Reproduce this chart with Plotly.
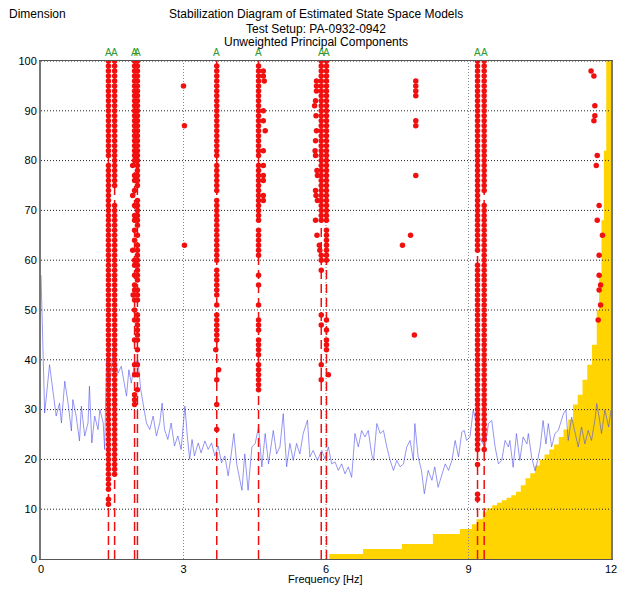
import plotly.graph_objects as go

# ---------------- data ----------------
X_TICKS = [0, 3, 6, 9, 12]
Y_TICKS = [0, 10, 20, 30, 40, 50, 60, 70, 80, 90, 100]

# yellow staircase (frequency where the step starts, height of the step)
YEL_F = [6.07, 6.78, 7.60, 8.25, 8.82, 9.07, 9.17, 9.30, 9.38, 9.50, 9.60, 9.70, 9.80, 9.90,
         10.0, 10.1, 10.2, 10.3, 10.4, 10.5, 10.6, 10.7, 10.8, 10.9, 11.0, 11.1, 11.2, 11.3,
         11.4, 11.5, 11.6, 11.7, 11.75, 11.8, 11.85, 11.9, 12.0]
YEL_H = [1, 2, 3, 5, 6, 7, 8, 9.5, 10.2, 10.8, 11.3, 11.8, 12.3, 12.8,
         13.5, 14.8, 16.2, 17.2, 18.8, 20.0, 21.0, 22.0, 23.0, 24.5, 26, 28, 31, 33,
         36, 39, 43, 50, 57, 68, 82, 100, 100]

# blue indicator line
BLUE_F = [0.0, 0.03, 0.077, 0.18, 0.25, 0.32, 0.39, 0.43, 0.5, 0.57, 0.64, 0.67, 0.74, 0.81, 0.85,
          0.92, 0.99, 1.02, 1.07, 1.13, 1.2, 1.24, 1.31, 1.34, 1.38, 1.45, 1.52, 1.56, 1.62, 1.69,
          1.75, 1.8, 1.85, 1.9, 1.97, 2.04, 2.1, 2.17, 2.22, 2.29, 2.36, 2.43, 2.5, 2.55, 2.6,
          2.67, 2.74, 2.81, 2.88, 2.95, 3.03, 3.08, 3.13, 3.18, 3.23, 3.31, 3.37, 3.45, 3.52, 3.59,
          3.66, 3.73, 3.8, 3.87, 3.94, 4.0, 4.06, 4.12, 4.23, 4.29, 4.36, 4.44, 4.51, 4.58, 4.65,
          4.72, 4.79, 4.89, 4.96, 5.03, 5.1, 5.17, 5.24, 5.31, 5.38, 5.45, 5.52, 5.61, 5.66, 5.73,
          5.82, 5.91, 5.98, 6.05, 6.12, 6.19, 6.26, 6.33, 6.4, 6.47, 6.54, 6.61, 6.68, 6.75, 6.82,
          6.89, 6.96, 7.0, 7.07, 7.14, 7.21, 7.28, 7.35, 7.42, 7.49, 7.56, 7.63, 7.7, 7.77, 7.84,
          7.87, 7.94, 8.01, 8.07, 8.15, 8.23, 8.29, 8.36, 8.44, 8.51, 8.58, 8.65, 8.72, 8.79, 8.86,
          8.91, 8.96, 9.03, 9.1, 9.17, 9.25, 9.35, 9.42, 9.49, 9.56, 9.63, 9.7, 9.77, 9.84, 9.87,
          9.94, 10.01, 10.08, 10.15, 10.23, 10.26, 10.33, 10.4, 10.44, 10.51, 10.57, 10.63, 10.68,
          10.75, 10.82, 10.89, 10.94, 11.0, 11.05, 11.1, 11.17, 11.24, 11.31, 11.38, 11.45, 11.52,
          11.59, 11.66, 11.7, 11.75, 11.8, 11.87, 11.95, 12.0]
BLUE_V = [57, 45, 29.3, 39, 34, 28.7, 31.3, 27.3, 35.7, 31.3, 25.7, 32, 28.7, 23.7, 30.7,
          24.7, 27.3, 34.7, 23.3, 28.7, 26, 30, 27.3, 22, 40, 35.3, 42, 40, 37.3, 38.7,
          35.3, 32.7, 38, 35.3, 39.3, 40, 34, 30, 27.3, 26, 28.7, 24.7, 27.3, 31.3, 26,
          24, 27.3, 22.7, 24.7, 22, 30.7, 24.7, 20, 24, 20.7, 23.3, 21.3, 23.7, 22, 23.3,
          20.7, 22.7, 19.3, 20.7, 16.7, 20.7, 25.2, 19.1, 13.8, 21.1, 13.8, 22.5, 23.2, 26.5, 18.5,
          25.2, 19.1, 25.8, 21.1, 22.5, 29.2, 18.5, 23.2, 19.8, 23.2, 21.1, 25.2, 27.9, 20.5, 21.8,
          19.8, 21.8, 20.1, 22.5, 19.1, 19.5, 17.8, 19.1, 17.1, 18.5, 16.4, 25.2, 22.5, 25.8, 24.5,
          25.8, 21.1, 19.8, 27.2, 25.2, 25.8, 22.5, 19.8, 17.8, 19.8, 18.5, 19.1, 22.5, 23.8, 19.8,
          27.2, 20.5, 17.8, 13.1, 17.8, 15.8, 18.5, 14.4, 17.1, 19.1, 17.8, 19.8, 23.8, 20.5, 25.5,
          25.8, 23.8, 24.5, 29.9, 27.2, 24, 22.5, 27.2, 27.8, 22.5, 19.1, 19.8, 23.8, 22.5, 23.8,
          18.4, 25.2, 19.8, 24.5, 23.1, 25.2, 20.4, 17.7, 19.1, 22.5, 27.8, 23.1, 27.2,
          22.5, 25.2, 25.8, 27.2, 29.2, 29.9, 23.8, 28.5, 25.2, 22.5, 26.5, 23.1, 25.8,
          23.8, 27.8, 31.2, 28.5, 25.2, 29.9, 26.5, 29.9]

# stable-mode columns (frequency [Hz]) with their dimension spans and single dots
COL_FREQS = [1.42, 1.55, 1.97, 2.03, 3.70, 4.58, 5.90, 6.01, 9.19, 9.33]
COL_SPANS = [
    [(14, 79), (81, 100)],
    [(17, 71), (75, 100)],
    [(80, 100)],
    [(75, 100), (67, 72), (59, 63), (56, 58), (52, 54), (44, 49)],
    [(81, 99), (74, 79), (60, 72), (53, 57), (44, 49)],
    [(81, 99), (68, 79), (61, 66), (46, 48), (41, 44), (34, 39)],
    [(68, 100)],
    [(68, 100), (60, 66), (42, 44)],
    [(62, 100), (22, 59)],
    [(74, 100), (24, 71)],
]
COL_SINGLES = [
    [11, 12],
    [],
    [77, 76, 74, 71, 69, 68, 66, 64, 60, 59, 57, 55, 54, 52, 50, 48, 44, 39, 37, 33, 32, 31],
    [65, 42, 39, 37, 34],
    [58, 51, 36, 31, 26],
    [57, 55, 51],
    [61, 60, 58, 49, 47, 39, 36],
    [48, 46],
    [19, 13, 12],
    [22],
]

# dots slightly off their column
OFF_F = [1.93, 1.93, 1.93, 1.94, 3.68, 3.74,
         4.68, 4.68, 4.70, 4.68, 4.68, 4.72, 4.68, 4.68, 4.68, 4.68, 4.68, 4.68,
         5.80, 5.80, 5.80, 5.78, 5.76, 5.79, 5.80, 5.78, 5.77, 5.78, 5.81, 5.82, 5.78, 5.79,
         5.82, 5.78, 5.81, 5.86, 5.87, 6.05]
OFF_D = [79, 73, 62, 53, 42, 38,
         98, 97, 96, 90, 88, 86, 82, 79, 77, 76, 73, 72,
         96, 95, 94, 92, 91, 89, 86, 84, 82, 81, 78, 77, 74, 73,
         72, 68, 65, 63, 62, 37]

# isolated (unstable) poles
SCAT_F = [3.00, 3.02, 3.02, 7.89, 7.89, 7.89, 7.89, 7.89, 7.89, 7.89, 7.78, 7.61, 7.86,
          11.58, 11.64, 11.66, 11.66, 11.64, 11.71, 11.69, 11.75, 11.71, 11.82, 11.75, 11.75,
          11.78, 11.75, 11.78, 11.73]
SCAT_D = [95, 87, 63, 96, 95, 94, 93, 88, 87, 77, 65, 63, 45,
          98, 97, 91, 89, 88, 81, 79, 71, 68, 65, 61, 57, 55, 54, 51, 48]

LABEL = "A"

# ---------------- build figure ----------------
FONT = "Liberation Sans, Arial, sans-serif"
RED = "rgb(240,16,16)"

# the page body has an 8px margin, so the figure is placed at (8, 8) in the window
PAGE_OFF = 8
FIG_W, FIG_H = 631 - PAGE_OFF, 589 - PAGE_OFF
# plot area in window pixels
plot_l, plot_r, plot_t, plot_b = 41, 611, 61, 559
pw, ph = plot_r - plot_l, plot_b - plot_t

fig = go.Figure()

# yellow staircase
fig.add_trace(go.Scatter(x=YEL_F, y=YEL_H, mode="lines", line=dict(shape="hv", width=0, color="#FFD400"),
                         fill="tozeroy", fillcolor="#FFD400", hoverinfo="skip"))

# grid lines drawn above the yellow area
gx, gy = [], []
for t in Y_TICKS[1:]:
    gx += [X_TICKS[0], X_TICKS[-1], None]
    gy += [t, t, None]
fig.add_trace(go.Scatter(x=gx, y=gy, mode="lines", line=dict(color="#222", width=1, dash="1px,2px"),
                         hoverinfo="skip"))
vx, vy = [], []
for t in X_TICKS[1:-1]:
    vx += [t, t, None]
    vy += [Y_TICKS[0], Y_TICKS[-1], None]
fig.add_trace(go.Scatter(x=vx, y=vy, mode="lines", line=dict(color="#888", width=1, dash="1px,2px"),
                         hoverinfo="skip"))

# blue line
fig.add_trace(go.Scatter(x=BLUE_F, y=BLUE_V, mode="lines",
                         line=dict(color="rgba(80,80,235,0.6)", width=1), hoverinfo="skip"))

# red dashed stable-frequency lines
dx, dy = [], []
for f in COL_FREQS:
    dx += [f, f, None]
    dy += [Y_TICKS[0], Y_TICKS[-1], None]
fig.add_trace(go.Scatter(x=dx, y=dy, mode="lines", line=dict(color=RED, width=1.5, dash="9px,5px"),
                         hoverinfo="skip"))

# red pole dots
px, py = [], []
for f, spans, singles in zip(COL_FREQS, COL_SPANS, COL_SINGLES):
    for a, b in spans:
        for d in range(a, b + 1):
            px.append(f)
            py.append(d)
    for d in singles:
        px.append(f)
        py.append(d)
px += OFF_F + SCAT_F
py += OFF_D + SCAT_D
fig.add_trace(go.Scatter(x=px, y=py, mode="markers",
                         marker=dict(color=RED, size=5.5, line=dict(width=0)), hoverinfo="skip"))

annotations = []
for f in COL_FREQS:
    annotations.append(dict(x=f, y=100, xref="x", yref="y", text=LABEL, showarrow=False,
                            yanchor="bottom", yshift=1, font=dict(family=FONT, size=10, color="#2a9a2a")))


def px2paper_x(p):
    return (p - plot_l) / pw


def px2paper_y(p):
    return (plot_b - p) / ph


title_lines = ["Stabilization Diagram of Estimated State Space Models",
               "Test Setup: PA-0932-0942",
               "Unweighted Principal Components"]
title_rows = [14.5, 28.5, 42.5]
for t, row in zip(title_lines, title_rows):
    annotations.append(dict(x=px2paper_x(315.5), y=px2paper_y(row), xref="paper", yref="paper",
                            text=t, showarrow=False, xanchor="center", yanchor="middle", borderpad=0,
                            font=dict(family=FONT, size=12, color="black")))
annotations.append(dict(x=px2paper_x(PAGE_OFF), y=px2paper_y(title_rows[0]), xref="paper", yref="paper",
                        text="Dimension", showarrow=False, xanchor="left", yanchor="middle", borderpad=0,
                        font=dict(family=FONT, size=12, color="black")))
annotations.append(dict(x=px2paper_x(325), y=px2paper_y(579), xref="paper", yref="paper",
                        text="Frequency [Hz]", showarrow=False, xanchor="center", yanchor="middle",
                        font=dict(family=FONT, size=11, color="black")))

fig.update_layout(
    width=FIG_W, height=FIG_H,
    margin=dict(l=plot_l - PAGE_OFF, r=631 - plot_r, t=plot_t - PAGE_OFF, b=589 - plot_b),
    paper_bgcolor="white", plot_bgcolor="white",
    showlegend=False,
    font=dict(family=FONT, size=11, color="black"),
    annotations=annotations,
    xaxis=dict(range=[X_TICKS[0], X_TICKS[-1]], tickvals=X_TICKS, showgrid=False, zeroline=False,
               showline=True, linecolor="#555", linewidth=1, mirror=True, ticks="", automargin=False,
               tickfont=dict(size=11, color="black")),
    yaxis=dict(range=[Y_TICKS[0], Y_TICKS[-1]], tickvals=Y_TICKS, showgrid=False, zeroline=False,
               showline=True, linecolor="#777", linewidth=2, mirror=True, ticks="", automargin=False,
               tickfont=dict(size=11, color="black")),
)

fig.write_html("out.html")
